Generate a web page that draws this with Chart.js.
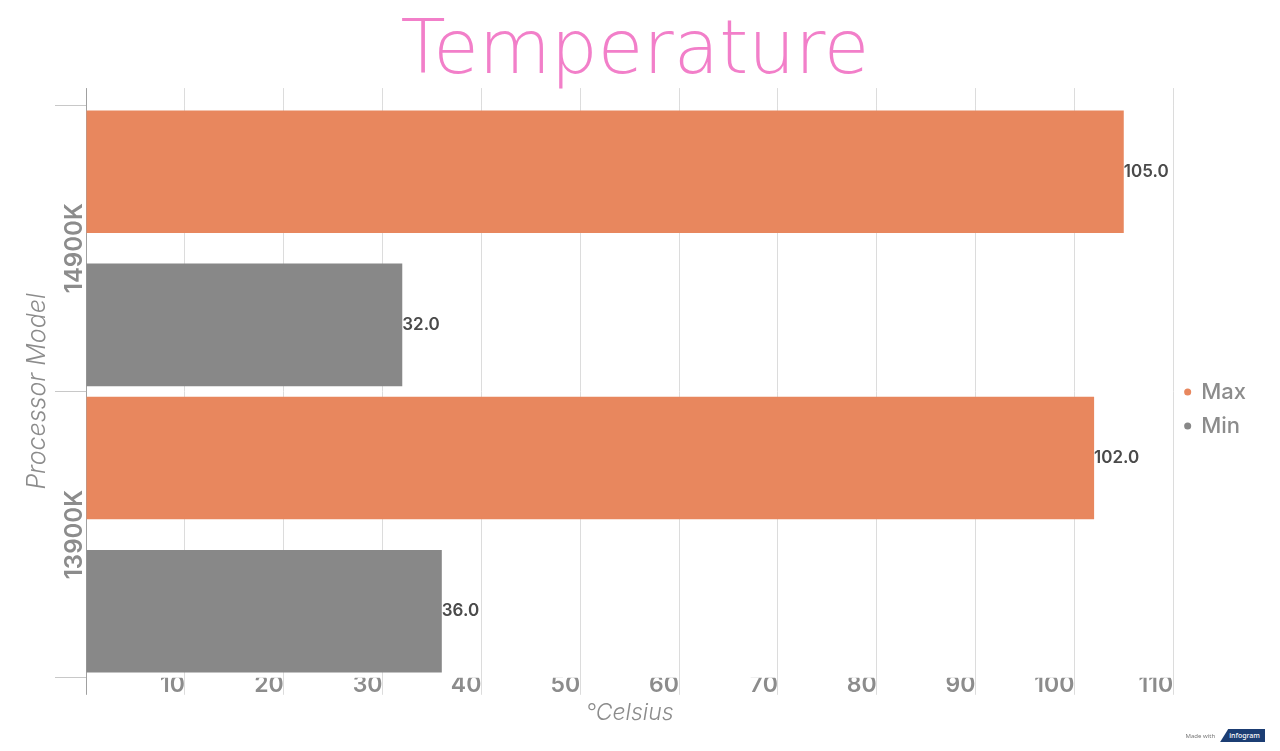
<!DOCTYPE html>
<html>
<head>
<meta charset="utf-8">
<script src="https://cdn.jsdelivr.net/npm/chart.js@4.4.1/dist/chart.umd.min.js"></script>
<style>
  body { margin: 0; background: #fff; }
  #wrap { position: relative; width: 1280px; height: 751px; }
  #made { position: absolute; right: 15px; bottom: 9px; display: flex; align-items: center; font-family: "Noto Sans", sans-serif; }
  #made span { font-size: 6px; color: #777; margin-right: 5px; }
  #made b { background: #1b3d73; color: #fff; font-size: 7px; font-weight: 500; padding: 2px 5px 2px 9px; clip-path: polygon(18% 0, 100% 0, 100% 100%, 0 100%); }
</style>
</head>
<body>
<div id="wrap">
  <canvas id="chart"></canvas>
  <div id="made"><span>Made with</span><b>infogram</b></div>
</div>
<script>
// data
const categories = ["14900K", "13900K"];
const maxTemps = [105.0, 102.0];
const minTemps = [32.0, 36.0];
const xTicksMax = 110;
const xStep = 10;

const FONT = "Inter, 'Noto Sans', sans-serif";
const gridGray = "#dcdcdc";
const textGray = "#8c8c8c";

// value labels at the end of each bar
const valueLabels = {
  id: "valueLabels",
  afterDatasetsDraw(chart) {
    const ctx = chart.ctx;
    ctx.save();
    ctx.font = "600 17px " + FONT;
    ctx.fillStyle = "#4a4a4a";
    ctx.textAlign = "left";
    ctx.textBaseline = "middle";
    chart.data.datasets.forEach((ds, i) => {
      chart.getDatasetMeta(i).data.forEach((bar, j) => {
        ctx.fillText(ds.data[j].toFixed(1), bar.x, bar.y);
      });
    });
    ctx.restore();
  }
};

new Chart(document.getElementById("chart"), {
  type: "bar",
  data: {
    labels: categories,
    datasets: [
      { label: "Max", data: maxTemps, backgroundColor: "#e8875e", borderWidth: 0 },
      { label: "Min", data: minTemps, backgroundColor: "#888888", borderWidth: 0 }
    ]
  },
  options: {
    indexAxis: "y",
    responsive: true,
    maintainAspectRatio: false,
    animation: false,
    categoryPercentage: 1.07,
    barPercentage: 0.8,
    layout: { padding: { left: 14, right: 24, top: 0, bottom: 17 } },
    plugins: {
      title: {
        display: true,
        text: "Temperature",
        color: "#f27fc9",
        font: { family: "'DejaVu Sans', sans-serif", size: 74, weight: 200, lineHeight: 0.92 },
        padding: { top: 20, bottom: 0 }
      },
      legend: {
        position: "right",
        title: { display: true, text: " ", font: { size: 10, lineHeight: 1 }, padding: 37 },
        labels: {
          usePointStyle: true,
          pointStyle: "circle",
          boxWidth: 5,
          boxHeight: 5,
          padding: 12,
          color: textGray,
          font: { family: FONT, size: 22, weight: 500 }
        }
      },
      tooltip: { enabled: false }
    },
    scales: {
      x: {
        min: 0,
        max: xTicksMax,
        border: { display: false },
        grid: {
          color: ctx => ctx.tick && ctx.tick.value === 0 ? "#a0a0a0" : gridGray,
          drawTicks: true,
          tickLength: 17
        },
        ticks: {
          stepSize: xStep,
          autoSkip: false,
          align: "end",
          padding: -24,
          color: textGray,
          font: { family: FONT, size: 23, weight: 600 },
          callback: v => v === 0 ? "" : v
        },
        title: {
          display: true,
          text: "°Celsius",
          color: textGray,
          font: { family: FONT, size: 23, style: "italic", weight: 300 },
          padding: { top: 25, bottom: 7 }
        }
      },
      x2: {
        position: "top",
        min: 0,
        max: xTicksMax,
        border: { display: false },
        grid: {
          color: ctx => ctx.tick && ctx.tick.value === 0 ? "#a0a0a0" : gridGray,
          drawOnChartArea: false,
          tickLength: 17
        },
        ticks: { stepSize: xStep, display: false }
      },
      y: {
        border: { display: true, color: "#a0a0a0" },
        grid: { drawOnChartArea: false, tickLength: 31, color: "#c8c8c8" },
        ticks: {
          minRotation: 90,
          maxRotation: 90,
          crossAlign: "center",
          padding: -65,
          color: textGray,
          font: { family: FONT, size: 24, weight: 600 }
        },
        title: {
          display: true,
          text: "Processor Model",
          color: textGray,
          font: { family: FONT, size: 25, style: "italic", weight: 300 },
          padding: { top: 8, bottom: 0 }
        },
        afterFit(scale) { scale.width = 72; }
      }
    }
  },
  plugins: [valueLabels]
});
</script>
</body>
</html>
